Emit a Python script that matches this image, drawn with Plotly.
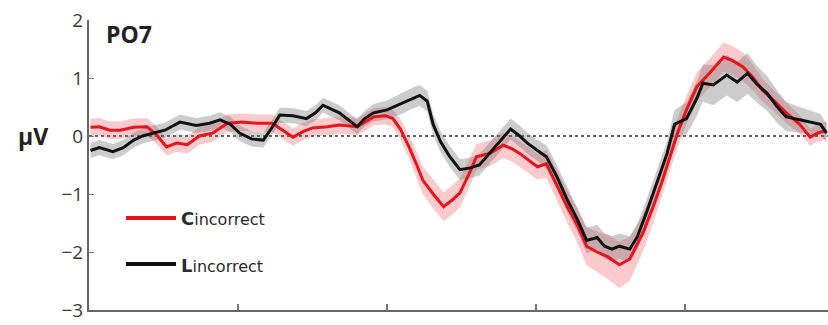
import plotly.graph_objects as go

# ---- data (time in ms, amplitude in µV) ----
t_c = [-99, -93, -86, -79, -70, -61, -54, -48, -41, -34, -26, -17, -7, 3, 13, 23, 30, 37, 44, 50,
       60, 68, 80, 91, 99, 104, 109, 115, 120, 124, 131, 138, 144, 149, 156, 160, 169, 178, 184, 189,
       201, 207, 214, 221, 228, 234, 241, 248, 256, 263, 272, 279, 285, 290, 295, 301, 308, 317, 326, 332,
       339, 346, 352, 360, 368, 377, 384, 389, 395]
v_c = [0.15, 0.16, 0.10, 0.10, 0.15, 0.16, 0.00, -0.19, -0.12, -0.15, 0.00, 0.05, 0.22, 0.24, 0.22, 0.22, 0.10, -0.02, 0.08, 0.14,
       0.16, 0.19, 0.16, 0.33, 0.35, 0.30, 0.12, -0.20, -0.50, -0.76, -1.00, -1.22, -1.10, -0.98, -0.60, -0.36, -0.30, -0.16, -0.22, -0.30,
       -0.53, -0.48, -0.85, -1.22, -1.55, -1.90, -2.00, -2.08, -2.22, -2.12, -1.66, -1.20, -0.76, -0.35, 0.05, 0.45, 0.85, 1.10, 1.36, 1.30,
       1.19, 1.00, 0.79, 0.60, 0.40, 0.20, -0.02, 0.05, 0.10]
se_c = [0.15, 0.15, 0.15, 0.15, 0.15, 0.15, 0.15, 0.15, 0.15, 0.15, 0.15, 0.15, 0.15, 0.15, 0.15, 0.15, 0.15, 0.15, 0.15, 0.15,
        0.15, 0.15, 0.15, 0.15, 0.15, 0.15, 0.18, 0.2, 0.22, 0.24, 0.25, 0.25, 0.25, 0.25, 0.24, 0.22, 0.22, 0.22, 0.22, 0.22,
        0.22, 0.24, 0.26, 0.28, 0.3, 0.33, 0.35, 0.38, 0.4, 0.38, 0.32, 0.28, 0.25, 0.25, 0.25, 0.25, 0.25, 0.25, 0.25, 0.25,
        0.25, 0.22, 0.2, 0.18, 0.18, 0.16, 0.15, 0.15, 0.15]

t_l = [-99, -93, -84, -77, -70, -64, -57, -49, -39, -28, -19, -12, -5, 1, 9, 17, 23, 28, 37, 46,
       52, 57, 68, 80, 85, 91, 100, 109, 117, 122, 127, 131, 136, 142, 149, 156, 162, 172, 183, 189,
       194, 201, 207, 214, 221, 228, 234, 241, 246, 251, 256, 263, 268, 274, 281, 288, 293, 301, 308, 312,
       319, 328, 335, 342, 348, 355, 362, 368, 377, 386, 391, 395]
v_l = [-0.25, -0.20, -0.27, -0.20, -0.07, 0.00, 0.05, 0.10, 0.24, 0.18, 0.22, 0.28, 0.20, 0.05, -0.05, -0.07, 0.15, 0.36, 0.35, 0.30,
       0.40, 0.53, 0.40, 0.16, 0.30, 0.40, 0.45, 0.55, 0.65, 0.70, 0.60, 0.20, -0.10, -0.35, -0.58, -0.55, -0.50, -0.20, 0.12, 0.00,
       -0.12, -0.25, -0.36, -0.70, -1.10, -1.45, -1.80, -1.75, -1.90, -1.95, -1.90, -1.95, -1.74, -1.33, -0.80, -0.30, 0.20, 0.30, 0.65, 0.91,
       0.88, 1.05, 0.93, 1.08, 0.90, 0.74, 0.50, 0.33, 0.28, 0.22, 0.20, 0.05]
se_l = [0.13, 0.13, 0.13, 0.13, 0.13, 0.13, 0.13, 0.13, 0.13, 0.13, 0.13, 0.13, 0.13, 0.13, 0.13, 0.13, 0.13, 0.13, 0.13, 0.13,
        0.13, 0.13, 0.13, 0.13, 0.13, 0.15, 0.16, 0.18, 0.18, 0.18, 0.18, 0.18, 0.18, 0.18, 0.18, 0.18, 0.18, 0.18, 0.18, 0.18,
        0.18, 0.18, 0.2, 0.2, 0.22, 0.22, 0.22, 0.22, 0.22, 0.22, 0.22, 0.22, 0.22, 0.22, 0.22, 0.22, 0.25, 0.28, 0.3, 0.32,
        0.35, 0.35, 0.35, 0.35, 0.32, 0.3, 0.28, 0.25, 0.22, 0.2, 0.18, 0.16]

assert len(t_c) == len(v_c) == len(se_c)
assert len(t_l) == len(v_l) == len(se_l)

y_ticks = [-3, -2, -1, 0, 1, 2]
x_ticks = [0, 100, 200, 300]
x_range = [-100, 396]
y_range = [-3, 2]

RED = "#e8141b"
BLACK = "#111111"
FONT = "Open Sans"

fig = go.Figure()


def band(t, v, se, color):
    upper = [a + b for a, b in zip(v, se)]
    lower = [a - b for a, b in zip(v, se)]
    fig.add_trace(go.Scatter(x=t + t[::-1], y=upper + lower[::-1], fill="toself",
                             fillcolor=color, line=dict(width=0), mode="lines",
                             hoverinfo="skip", showlegend=False))


band(t_c, v_c, se_c, "rgba(240,90,100,0.32)")
band(t_l, v_l, se_l, "rgba(110,110,110,0.35)")

# zero reference line
fig.add_trace(go.Scatter(x=x_range, y=[0, 0], mode="lines",
                         line=dict(color="#666", width=2, dash="dot"),
                         hoverinfo="skip", showlegend=False))

fig.add_trace(go.Scatter(x=t_c, y=v_c, mode="lines", line=dict(color=RED, width=3),
                         showlegend=False))
fig.add_trace(go.Scatter(x=t_l, y=v_l, mode="lines", line=dict(color=BLACK, width=3),
                         showlegend=False))

W, H = 828, 325
ML, MR, MT, MB = 89, 0, 20, 15
pw = W - ML - MR
ph = H - MT - MB


def px_x(p):
    return (p - ML) / pw


def px_y(p):
    return (H - MB - p) / ph


# legend samples
for ypx, col in [(218, RED), (264, BLACK)]:
    fig.add_shape(type="line", xref="paper", yref="paper",
                  x0=px_x(126), x1=px_x(176), y0=px_y(ypx), y1=px_y(ypx),
                  line=dict(color=col, width=4))

for ypx, letter in [(219, "C"), (265, "L")]:
    fig.add_annotation(xref="paper", yref="paper", x=px_x(179), y=px_y(ypx),
                       xanchor="left", yanchor="middle", showarrow=False,
                       text=f"<b>{letter}</b><span style='font-size:16px'>incorrect</span>",
                       font=dict(family="DejaVu Sans", size=18, color="#2a2a2a"))

fig.add_annotation(xref="paper", yref="paper", x=px_x(104), y=px_y(34),
                   xanchor="left", yanchor="middle", showarrow=False,
                   text="<b>PO7</b>", font=dict(family=FONT, size=23, color="#222"))

fig.add_annotation(xref="paper", yref="y", x=px_x(33), y=0,
                   xanchor="center", yanchor="middle", showarrow=False,
                   text="<b>μV</b>", font=dict(family=FONT, size=23, color="#222"))

fig.update_layout(
    width=W, height=H,
    margin=dict(l=ML, r=MR, t=MT, b=MB),
    paper_bgcolor="white", plot_bgcolor="white",
    font=dict(family=FONT),
    xaxis=dict(range=x_range, tickvals=x_ticks, showticklabels=False, ticks="inside",
               ticklen=6, tickwidth=2, tickcolor="#777", showline=True, linecolor="#666",
               linewidth=2, showgrid=False, zeroline=False),
    yaxis=dict(range=y_range, tickvals=y_ticks, ticks="inside", ticklen=5, tickwidth=1,
               tickcolor="#777", showline=True, linecolor="#666", linewidth=2,
               showgrid=False, zeroline=False,
               tickfont=dict(family=FONT, size=19, color="#3a3a3a")),
)

fig.write_html("out.html")
